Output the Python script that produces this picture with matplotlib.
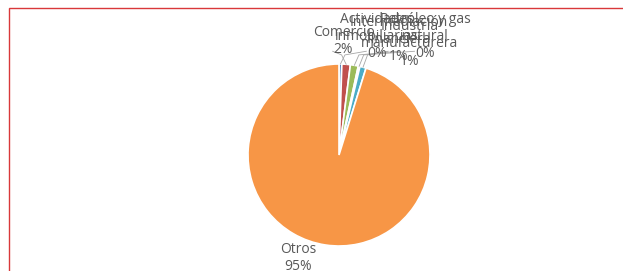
import numpy as np
import matplotlib.pyplot as plt
from matplotlib.patches import Rectangle

sectors = ['Actividades\ninmobiliarias', 'Comercio', 'Industria\nmanufacturera',
           'Petróleo y gas\nnatural', 'Intermediación\nfinanciera', 'Otros']
shares = [0.5, 1.5, 1.4, 0.3, 1.1, 95.2]
colors = ['#4F81BD', '#C0504D', '#9BBB59', '#8064A2', '#4BACC6', '#F79646']
pct_labels = ['0%', '2%', '1%', '0%', '1%', '95%']

# label anchor (data units, radius = 1)
label_pos = [(0.42, 1.30), (0.05, 1.25), (0.78, 1.22), (0.95, 1.30), (0.66, 1.27), (-0.45, -1.13)]

fig = plt.figure(figsize=(6.23, 2.71), dpi=100)
fig.patches.append(Rectangle((9 / 623, -0.1), 1.2, (271 - 8) / 271 + 0.1, transform=fig.transFigure,
                             fill=False, edgecolor='#D9383A', linewidth=1.0))

ax = fig.add_axes([(339 - 91) / 623, (271 - 155 - 91) / 271, 182 / 623, 182 / 271])
wedges, _ = ax.pie(shares, colors=colors, startangle=90, counterclock=False,
                   wedgeprops=dict(edgecolor='white', linewidth=1.2))
ax.set_xlim(-1, 1)
ax.set_ylim(-1, 1)
ax.set_aspect('equal')
ax.axis('off')

for w, name, pct, (lx, ly) in zip(wedges, sectors, pct_labels, label_pos):
    ang = np.deg2rad((w.theta1 + w.theta2) / 2)
    ex, ey = np.cos(ang), np.sin(ang)
    ax.text(lx, ly, f"{name}\n{pct}", ha='center', va='center', fontsize=10,
            color='#595959', family='Open Sans', linespacing=1.2, clip_on=False)
    if name != 'Otros':
        ax.plot([ex, ex + 0.05 * np.sign(lx - ex), lx - 0.12], [ey, 1.1, 1.14],
                color='#A6A6A6', linewidth=0.6, clip_on=False)

fig.savefig('out.png', dpi=100)
